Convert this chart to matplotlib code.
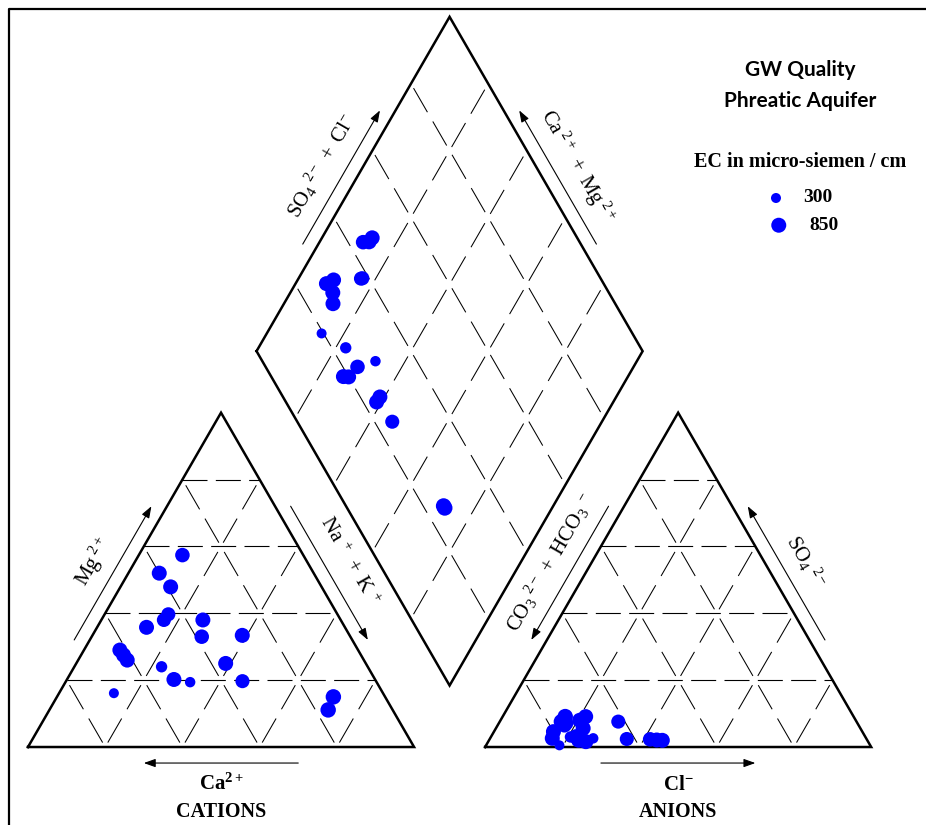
import matplotlib
matplotlib.use("Agg")
import matplotlib.pyplot as plt
import numpy as np

plt.rcParams['lines.scale_dashes'] = False
plt.rcParams['mathtext.fontset'] = 'custom'
plt.rcParams['mathtext.rm'] = 'Liberation Serif'
plt.rcParams['mathtext.it'] = 'Liberation Serif:italic'
plt.rcParams['mathtext.bf'] = 'Liberation Serif:bold'

# samples, % of meq/l (Ca and HCO3 are the remainders)
mg  = [57.4, 47.9, 35.8, 39.7, 38.0, 52.0, 29.0, 26.0, 27.5, 16.1,
       24.0, 19.4, 33.0, 38.0, 20.2, 33.4, 25.0, 19.7, 15.0, 11.1]
nak = [11.3, 13.0, 12.8, 16.5, 16.2, 8.0, 9.3, 12.7, 11.0, 14.2,
       22.6, 32.3, 28.5, 26.3, 27.7, 38.8, 38.7, 45.7, 71.6, 72.2]
so4 = [2.3, 2.0, 2.1, 7.6, 2.4, 5.6, 9.1, 1.6, 8.0, 0.5,
       3.0, 2.6, 6.5, 2.6, 4.6, 3.1, 7.6, 7.1, 9.1, 2.1]
cl  = [41.6, 44.9, 43.4, 30.7, 35.5, 22.6, 21.5, 25.3, 20.5, 19.0,
       20.6, 26.7, 17.3, 16.1, 15.4, 22.0, 15.9, 17.5, 16.2, 23.2]
ec  = [800, 850, 850, 750, 750, 850, 850, 850, 850, 300,
       450, 350, 800, 850, 850, 850, 850, 750, 900, 900]

legend_ec = [300, 850]

GAP = 18.4          # gap between the two triangles (side = 100)
H = np.sqrt(3) / 2


def size(e):
    d_px = 10 + (np.asarray(e, float) - 300) / 550 * 5
    return (d_px * 0.72) ** 2


mg, nak, so4, cl = map(np.asarray, (mg, nak, so4, cl))

# vertices
ox = 100 + GAP
L = np.array([50 + GAP / 2, (100 + GAP) * H])
T = L + 100 * np.array([0.5, H])
R = L + 100 * np.array([1.0, 0])
B = L + 100 * np.array([0.5, -H])

# point positions
cx = nak + mg / 2
cy = mg * H
ax_ = ox + cl + so4 / 2
ay = so4 * H
s_cl = so4 + cl
dx = L[0] + 0.5 * (s_cl + nak)
dy = L[1] + H * (s_cl - nak)

fig = plt.figure(figsize=(9.26, 8.25), dpi=100)
ax = fig.add_axes([0, 0, 1, 1])
ax.set_xlim(-7.25, 232.6)
ax.set_ylim(-20.2, 193.5)
ax.axis('off')

outline = dict(color='black', lw=1.8, solid_joinstyle='miter', zorder=3)
hdash = dict(color='black', lw=0.8, linestyle=(0, (18, 6)), zorder=2)
sdash = dict(color='black', lw=0.75, linestyle=(24, (20, 7.7)), zorder=2)

for o in (0, ox):
    ax.plot([o, o + 100, o + 50, o], [0, 0, 100 * H, 0], **outline)
    for k in (20, 40, 60, 80):
        ax.plot([o + k / 2, o + 100 - k / 2], [k * H, k * H], **hdash)
        ax.plot([o + k, o + k + (100 - k) / 2], [0, (100 - k) * H], **sdash)
        ax.plot([o + k, o + k / 2], [0, k * H], **sdash)

ax.plot([L[0], T[0], R[0], B[0], L[0]], [L[1], T[1], R[1], B[1], L[1]], **outline)
u = np.array([0.5, H])
v = np.array([0.5, -H])
for k in (20, 40, 60, 80):
    p = L + k * v
    q = p + 100 * u
    ax.plot([p[0], q[0]], [p[1], q[1]], **sdash)
    p = L + k * u
    q = p + 100 * v
    ax.plot([p[0], q[0]], [p[1], q[1]], **sdash)

pt = dict(c='#0000ff', edgecolors='none', zorder=5)
ax.scatter(cx, cy, s=size(ec), **pt)
ax.scatter(ax_, ay, s=size(ec), **pt)
ax.scatter(dx, dy, s=size(ec), **pt)


def edge_pt(p0, p1, t, off):
    p0, p1 = np.asarray(p0, float), np.asarray(p1, float)
    d = (p1 - p0) / np.linalg.norm(p1 - p0)
    n = np.array([-d[1], d[0]])
    return p0 + t * (p1 - p0) + off * n


arrow = dict(arrowstyle='-|>,head_length=0.7,head_width=0.25', lw=0.8,
             color='black', shrinkA=0, shrinkB=0)


def side(p0, p1, forward, label, rot):
    a, b = (0.3, 0.7) if forward else (0.7, 0.3)
    s = edge_pt(p0, p1, a, 3.5)
    e = edge_pt(p0, p1, b, 3.5)
    ax.annotate('', xy=e, xytext=s, arrowprops=arrow)
    c = edge_pt(p0, p1, 0.5, 9.3)
    ax.text(c[0], c[1], label, rotation=rot, ha='center', va='center',
            rotation_mode='anchor', fontsize=15, family='Liberation Serif')


Ac, Bc, Cc = (0, 0), (100, 0), (50, 100 * H)
Aa, Ba, Ca = (ox, 0), (ox + 100, 0), (ox + 50, 100 * H)

side(Ac, Cc, True, r'$\mathrm{Mg}^{\ 2+}$', 60)
side(Cc, Bc, True, r'$\mathrm{Na}^{\ +}\ +\ \mathrm{K}^{\ +}$', -60)
side(Aa, Ca, False, r'$\mathrm{CO_3}{}^{\ 2-}\ +\ \mathrm{HCO_3}{}^{\ -}$', 60)
side(Ca, Ba, False, r'$\mathrm{SO_4}{}^{\ 2-}$', -60)
side(L, T, True, r'$\mathrm{SO_4}{}^{\ 2-}\ +\ \mathrm{Cl}^{-}$', 60)
side(T, R, False, r'$\mathrm{Ca}^{\ 2+}\ +\ \mathrm{Mg}^{\ 2+}$', -60)

ax.annotate('', xy=(30, -4.15), xytext=(70, -4.15), arrowprops=arrow)
ax.annotate('', xy=(ox + 70, -4.15), xytext=(ox + 30, -4.15), arrowprops=arrow)
ax.text(50, -9.3, r'$\mathbf{Ca}^{\mathbf{2+}}$', ha='center', va='center', fontsize=15)
ax.text(ox + 50, -9.6, r'$\mathbf{Cl}^{\mathbf{-}}$', ha='center', va='center', fontsize=15)
ax.text(50, -16.9, 'CATIONS', ha='center', va='center', fontsize=14.5,
        fontweight='bold', family='Liberation Serif')
ax.text(ox + 50, -16.9, 'ANIONS', ha='center', va='center', fontsize=14.5,
        fontweight='bold', family='Liberation Serif')

# title and EC legend
tf = ax.transAxes
ax.text(0.864, 0.915, 'GW Quality', transform=tf, ha='center', va='center',
        fontsize=15, fontweight='bold', family='Lato')
ax.text(0.864, 0.877, 'Phreatic Aquifer', transform=tf, ha='center', va='center',
        fontsize=15, fontweight='bold', family='Lato')
ax.text(0.864, 0.804, 'EC in micro-siemen / cm', transform=tf, ha='center',
        va='center', fontsize=14.5, fontweight='bold', family='Liberation Serif')
for e, x, y, tx in zip(legend_ec, (0.838, 0.841), (0.760, 0.727), (0.883, 0.890)):
    ax.scatter([x], [y], s=size(e), transform=tf, **pt)
    ax.text(tx, y, str(e), transform=tf, ha='center', va='center',
            fontsize=14, fontweight='bold', family='Liberation Serif')

# frame
ax.plot([0.0097, 0.0097, 1.0], [0.0, 0.989, 0.989], transform=tf,
        color='black', lw=1.6, clip_on=False)

fig.savefig('out.png', dpi=100)
